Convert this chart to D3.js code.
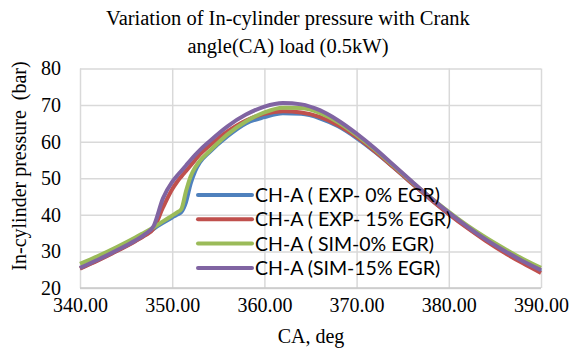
<!DOCTYPE html>
<html>
<head>
<meta charset="utf-8">
<script src="https://cdn.jsdelivr.net/npm/d3@7"></script>
<style>
  body { margin: 0; background: #fff; }
  svg { display: block; }
</style>
</head>
<body>
<svg id="chart" width="577" height="355"></svg>
<script>
// crank angle, deg
const crankAngle = [340, 342, 344, 346, 347, 348, 349, 350, 350.5, 351, 351.5, 352, 352.5, 353, 354, 356, 358, 360,
    362, 364, 366, 368, 370, 372, 374, 376, 378, 380, 382, 384, 386, 388, 390];

const expEgr0 = [25.4, 27.7, 30.2, 32.9, 34.4, 36.2, 37.8, 39.3, 40.0, 40.8, 43.5, 48.5, 52.0, 54.3, 57.0, 61.5, 65.0, 66.7,
    67.8, 67.6, 66.4, 64.2, 61.0, 57.2, 53.0, 48.6, 44.3, 40.3, 36.6, 33.2, 30.1, 27.2, 24.5];
const expEgr15 = [25.3, 27.6, 30.1, 32.8, 34.3, 36.3, 42.0, 47.0, 48.9, 50.5, 52.0, 53.5, 55.0, 56.5, 58.8, 62.8, 65.8, 67.6,
    68.3, 68.0, 66.8, 64.5, 61.3, 57.3, 53.0, 48.6, 44.3, 40.2, 36.4, 32.9, 29.7, 26.8, 24.1];
const simEgr0 = [26.6, 28.8, 31.2, 33.8, 35.2, 36.6, 38.2, 39.8, 40.6, 41.6, 46.5, 50.5, 53.0, 54.8, 57.3, 62.0, 65.5, 68.0,
    69.3, 69.2, 67.9, 65.3, 61.8, 57.8, 53.4, 49.0, 44.8, 40.8, 37.1, 33.8, 30.8, 28.0, 25.5];
const simEgr15 = [25.5, 27.8, 30.3, 33.0, 34.6, 37.0, 44.5, 49.0, 50.6, 52.0, 53.5, 55.0, 56.4, 57.7, 60.0, 64.2, 67.4, 69.6,
    70.6, 70.2, 68.6, 65.8, 62.2, 58.1, 53.6, 49.1, 44.7, 40.6, 36.8, 33.3, 30.2, 27.4, 24.9];

const seriesNames = ["CH-A ( EXP- 0% EGR)", "CH-A ( EXP- 15% EGR)", "CH-A ( SIM-0% EGR)", "CH-A (SIM-15% EGR)"];
const seriesColors = ["#4f81bd", "#c0504d", "#9bbb59", "#8064a2"];
const xTicks = [340, 350, 360, 370, 380, 390];
const yTicks = [20, 30, 40, 50, 60, 70, 80];

const series = [expEgr0, expEgr15, simEgr0, simEgr15].map((vals, i) => ({
    name: seriesNames[i],
    color: seriesColors[i],
    points: crankAngle.map((ca, j) => ({ ca: ca, p: vals[j] }))
}));

const svg = d3.select("#chart");
const margin = { top: 68.5, right: 36, bottom: 67, left: 80 };
const width = +svg.attr("width") - margin.left - margin.right;
const height = +svg.attr("height") - margin.top - margin.bottom;
const serif = "'Liberation Serif', 'Times New Roman', serif";

const x = d3.scaleLinear().domain([340, 390]).range([0, width]);
const y = d3.scaleLinear().domain([20, 80]).range([height, 0]);

const g = svg.append("g")
    .attr("transform", `translate(${margin.left},${margin.top})`);

// gridlines
g.append("g")
    .call(d3.axisLeft(y).tickValues(yTicks).tickSize(-width).tickFormat(""))
    .call(a => a.select(".domain").remove())
    .selectAll("line").attr("stroke", "#d9d9d9").attr("stroke-width", 1.5);

g.append("g")
    .attr("transform", `translate(0,${height})`)
    .call(d3.axisBottom(x).tickValues(xTicks).tickSize(-height).tickFormat(""))
    .call(a => a.select(".domain").remove())
    .selectAll("line").attr("stroke", "#d9d9d9").attr("stroke-width", 1.5);

g.append("line")
    .attr("x1", 0).attr("x2", width)
    .attr("y1", height).attr("y2", height)
    .attr("stroke", "#c8c8c8").attr("stroke-width", 1.5);

// tick labels
g.append("g")
    .call(d3.axisLeft(y).tickValues(yTicks).tickSize(0).tickPadding(19))
    .call(a => a.select(".domain").remove())
    .selectAll("text")
    .style("font-family", serif).style("font-size", "20px").attr("fill", "#000");

g.append("g")
    .attr("transform", `translate(0,${height})`)
    .call(d3.axisBottom(x).tickValues(xTicks).tickSize(0).tickPadding(10).tickFormat(d3.format(".2f")))
    .call(a => a.select(".domain").remove())
    .selectAll("text")
    .style("font-family", serif).style("font-size", "20px").attr("fill", "#000");

// curves
const line = d3.line()
    .x(d => x(d.ca))
    .y(d => y(d.p))
    .curve(d3.curveMonotoneX);

g.selectAll(".series")
    .data(series)
    .enter().append("path")
    .attr("class", "series")
    .attr("d", d => line(d.points))
    .attr("fill", "none")
    .attr("stroke", d => d.color)
    .attr("stroke-width", 4)
    .attr("stroke-linejoin", "round");

// legend
const legend = svg.append("g")
    .attr("transform", "translate(198,195)");

const item = legend.selectAll(".item")
    .data(series)
    .enter().append("g")
    .attr("class", "item")
    .attr("transform", (d, i) => `translate(0,${i * 24.3})`);

item.append("line")
    .attr("x1", 0).attr("x2", 54)
    .attr("stroke", d => d.color)
    .attr("stroke-width", 4)
    .attr("stroke-linecap", "round");

item.append("text")
    .attr("x", 57)
    .attr("dy", "0.36em")
    .style("font-family", "Lato, sans-serif")
    .style("font-size", "19.5px")
    .attr("fill", "#000")
    .text(d => d.name);

// titles
svg.append("text")
    .attr("x", 288).attr("y", 25)
    .attr("text-anchor", "middle")
    .style("font-family", serif).style("font-size", "20.5px")
    .text("Variation of In-cylinder pressure with Crank");

svg.append("text")
    .attr("x", 288).attr("y", 53)
    .attr("text-anchor", "middle")
    .style("font-family", serif).style("font-size", "20.5px")
    .text("angle(CA) load (0.5kW)");

svg.append("text")
    .attr("transform", "translate(26,166) rotate(-90)")
    .attr("text-anchor", "middle")
    .style("font-family", serif).style("font-size", "20px")
    .style("white-space", "pre")
    .text("In-cylinder pressure  (bar)");

svg.append("text")
    .attr("x", 311).attr("y", 343)
    .attr("text-anchor", "middle")
    .style("font-family", serif).style("font-size", "20px")
    .text("CA, deg");
</script>
</body>
</html>
